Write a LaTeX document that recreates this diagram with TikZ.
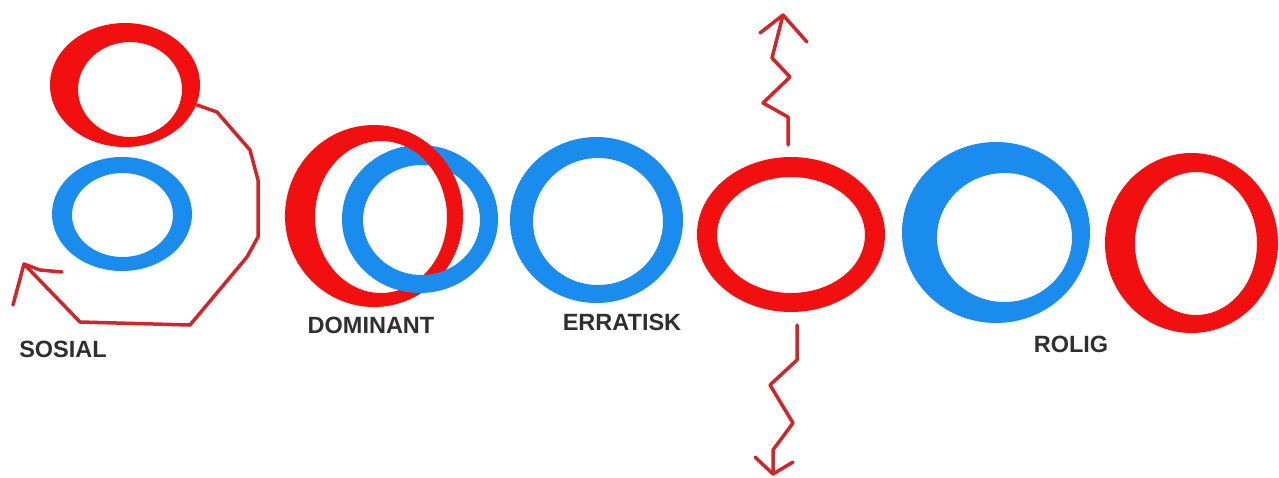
\documentclass[tikz,border=0pt]{standalone}
\usepackage{fontspec}
\setsansfont{Liberation Sans}
\usepackage{tikz}
\usetikzlibrary{positioning, calc}
\definecolor{cRingRed}  {HTML}{F20F0F}
\definecolor{cRingBlue} {HTML}{1A8CEE}
\definecolor{cScribble} {HTML}{D0262A}
\definecolor{cLabel}    {HTML}{2F2F2F}
% ring = outer ellipse minus inner ellipse
\newcommand{\ringband}[9]{%
  \fill[#1, even odd rule] (#2,#3) ellipse [x radius=#4pt, y radius=#5pt]
                           (#6,#7) ellipse [x radius=#8pt, y radius=#9pt];}

\begin{document}
\begin{tikzpicture}[x=1pt, y=-1pt,
    scribble/.style={cScribble, line width=3.5pt, line join=round, line cap=round},
    tag/.style={font=\sffamily\bfseries\fontsize{23.5}{26}\selectfont, text=cLabel, inner sep=0pt},
  ]
  \fill[white] (0,0) rectangle (1279,477);
  \useasboundingbox (0,0) rectangle (1279,477);

  % sosial
  \ringband{cRingRed}{125}{85}{75}{62}{130}{89.5}{52}{47.5}
  \ringband{cRingBlue}{122}{214}{70}{57}{122.5}{215}{50.5}{42}
  \coordinate (loopstart) at (197,105);
  \coordinate (looptip)   at (24,264);
  \draw[scribble] (loopstart) -- (217,112) -- (250,150) -- (258,180) -- (258,237)
        -- (247,257) -- (190,325) -- (80,322) -- (looptip);
  \draw[scribble] (62,272) -- (40,270) -- (looptip) -- (13,305);
  \node[tag] (sosial) at (63,349) {SOSIAL};

  % dominant: red under blue, then red again on top at the upper crossing
  \ringband{cRingRed}{374}{216}{89}{91}{381}{217}{66}{76}
  \ringband{cRingBlue}{420}{219}{78}{74}{421.5}{220}{58.5}{55}
  \begin{scope}
    \clip (405,115) rectangle (480,200);
    \ringband{cRingRed}{374}{216}{89}{91}{381}{217}{66}{76}
  \end{scope}
  \node[tag] (dominant) at (371,325) {DOMINANT};

  % erratisk
  \ringband{cRingBlue}{596.5}{220}{86.5}{83}{598}{221.5}{65}{63.5}
  \node[tag] (erratisk) at (622,322) {ERRATISK};

  % zigzag up and down
  \ringband{cRingRed}{791}{234.5}{94}{77.5}{791}{235}{74}{58}
  \coordinate (upstart) at (788,145);
  \coordinate (uptip)   at (783,15);
  \draw[scribble] (upstart) -- (788,117) -- (763,103) -- (790,77) -- (772,58) -- (uptip);
  \draw[scribble] (760,33) -- (uptip) -- (807,42);
  \coordinate (downstart) at (797,325);
  \coordinate (downtip)   at (773,474);
  \draw[scribble] (downstart) -- (797,360) -- (770,385) -- (793,423) -- (773,450) -- (downtip);
  \draw[scribble] (755,457) -- (downtip) -- (793,462);

  % rolig
  \ringband{cRingBlue}{996}{232.5}{94}{90.5}{1004.5}{237.5}{67.5}{64.5}
  \ringband{cRingRed}{1191.5}{243}{86.5}{90}{1196}{243.5}{61}{71.5}
  \node[tag] (rolig) at (1071,344) {ROLIG};
\end{tikzpicture}
\end{document}
